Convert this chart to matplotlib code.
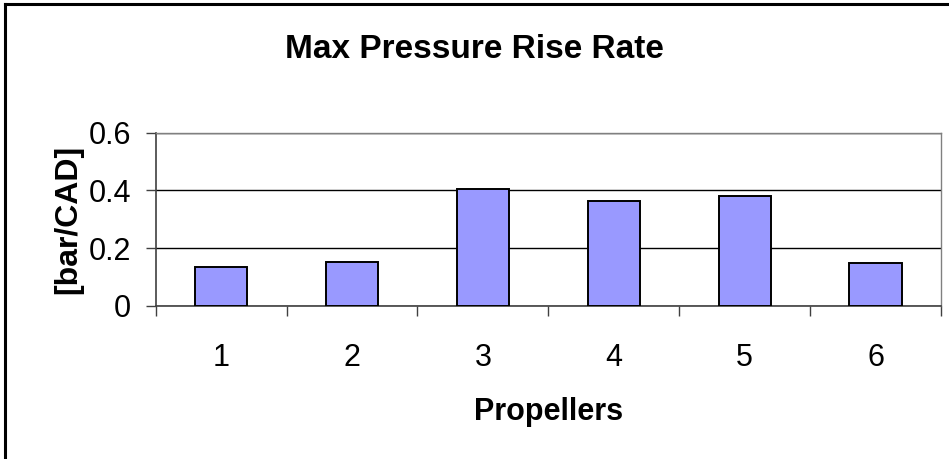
import matplotlib
matplotlib.use('Agg')
from matplotlib import pyplot as plt
from matplotlib.lines import Line2D
import numpy as np

plt.rcParams['font.family'] = ['Liberation Sans', 'DejaVu Sans']

propellers = [1, 2, 3, 4, 5, 6]
max_rise_rate = [0.134, 0.153, 0.405, 0.364, 0.379, 0.148]
y_ticks = [0, 0.2, 0.4, 0.6]

fig = plt.figure(figsize=(9.49, 4.59), dpi=100)
ax = fig.add_axes([0.164, 0.334, 0.8276, 0.377])

x = np.arange(len(propellers)) + 1
ax.bar(x, max_rise_rate, width=0.4, color='#9999FF', edgecolor='black',
       linewidth=1.4, zorder=3)

ax.set_xlim(0.5, len(propellers) + 0.5)
ax.set_ylim(0, 0.6)
ax.set_yticks(y_ticks)
ax.set_yticklabels(['0', '0.2', '0.4', '0.6'])
ax.set_xticks(x)
ax.set_xticklabels([str(p) for p in propellers])
ax.set_xticks(np.arange(0.5, len(propellers) + 1, 1), minor=True)
ax.tick_params(axis='x', which='major', length=0, pad=27, labelsize=22)
ax.tick_params(axis='x', which='minor', length=7.5, width=1, color='#404040',
               direction='out')
ax.tick_params(axis='y', length=7.5, width=1, color='#404040', labelsize=22, pad=10)

ax.yaxis.grid(True, color='black', linewidth=1, zorder=0)
for s in ['top', 'right']:
    ax.spines[s].set_color('#808080')
    ax.spines[s].set_linewidth(1)
for s in ['left', 'bottom']:
    ax.spines[s].set_color('#404040')
    ax.spines[s].set_linewidth(1.2)

ax.set_xlabel('Propellers', fontsize=22, fontweight='bold', labelpad=17)
ax.set_ylabel('[bar/CAD]', fontsize=23, fontweight='bold', labelpad=4)
fig.text(0.5, 0.892, 'Max Pressure Rise Rate', ha='center', va='center',
         fontsize=24, fontweight='bold')

# chart frame (right and bottom edges fall outside the picture)
fig.add_artist(Line2D([0.0055, 0.0055], [0, 0.991], transform=fig.transFigure,
                      color='black', linewidth=2.2))
fig.add_artist(Line2D([0.0055, 1], [0.991, 0.991], transform=fig.transFigure,
                      color='black', linewidth=2.2))

fig.savefig('out.png', dpi=100)
